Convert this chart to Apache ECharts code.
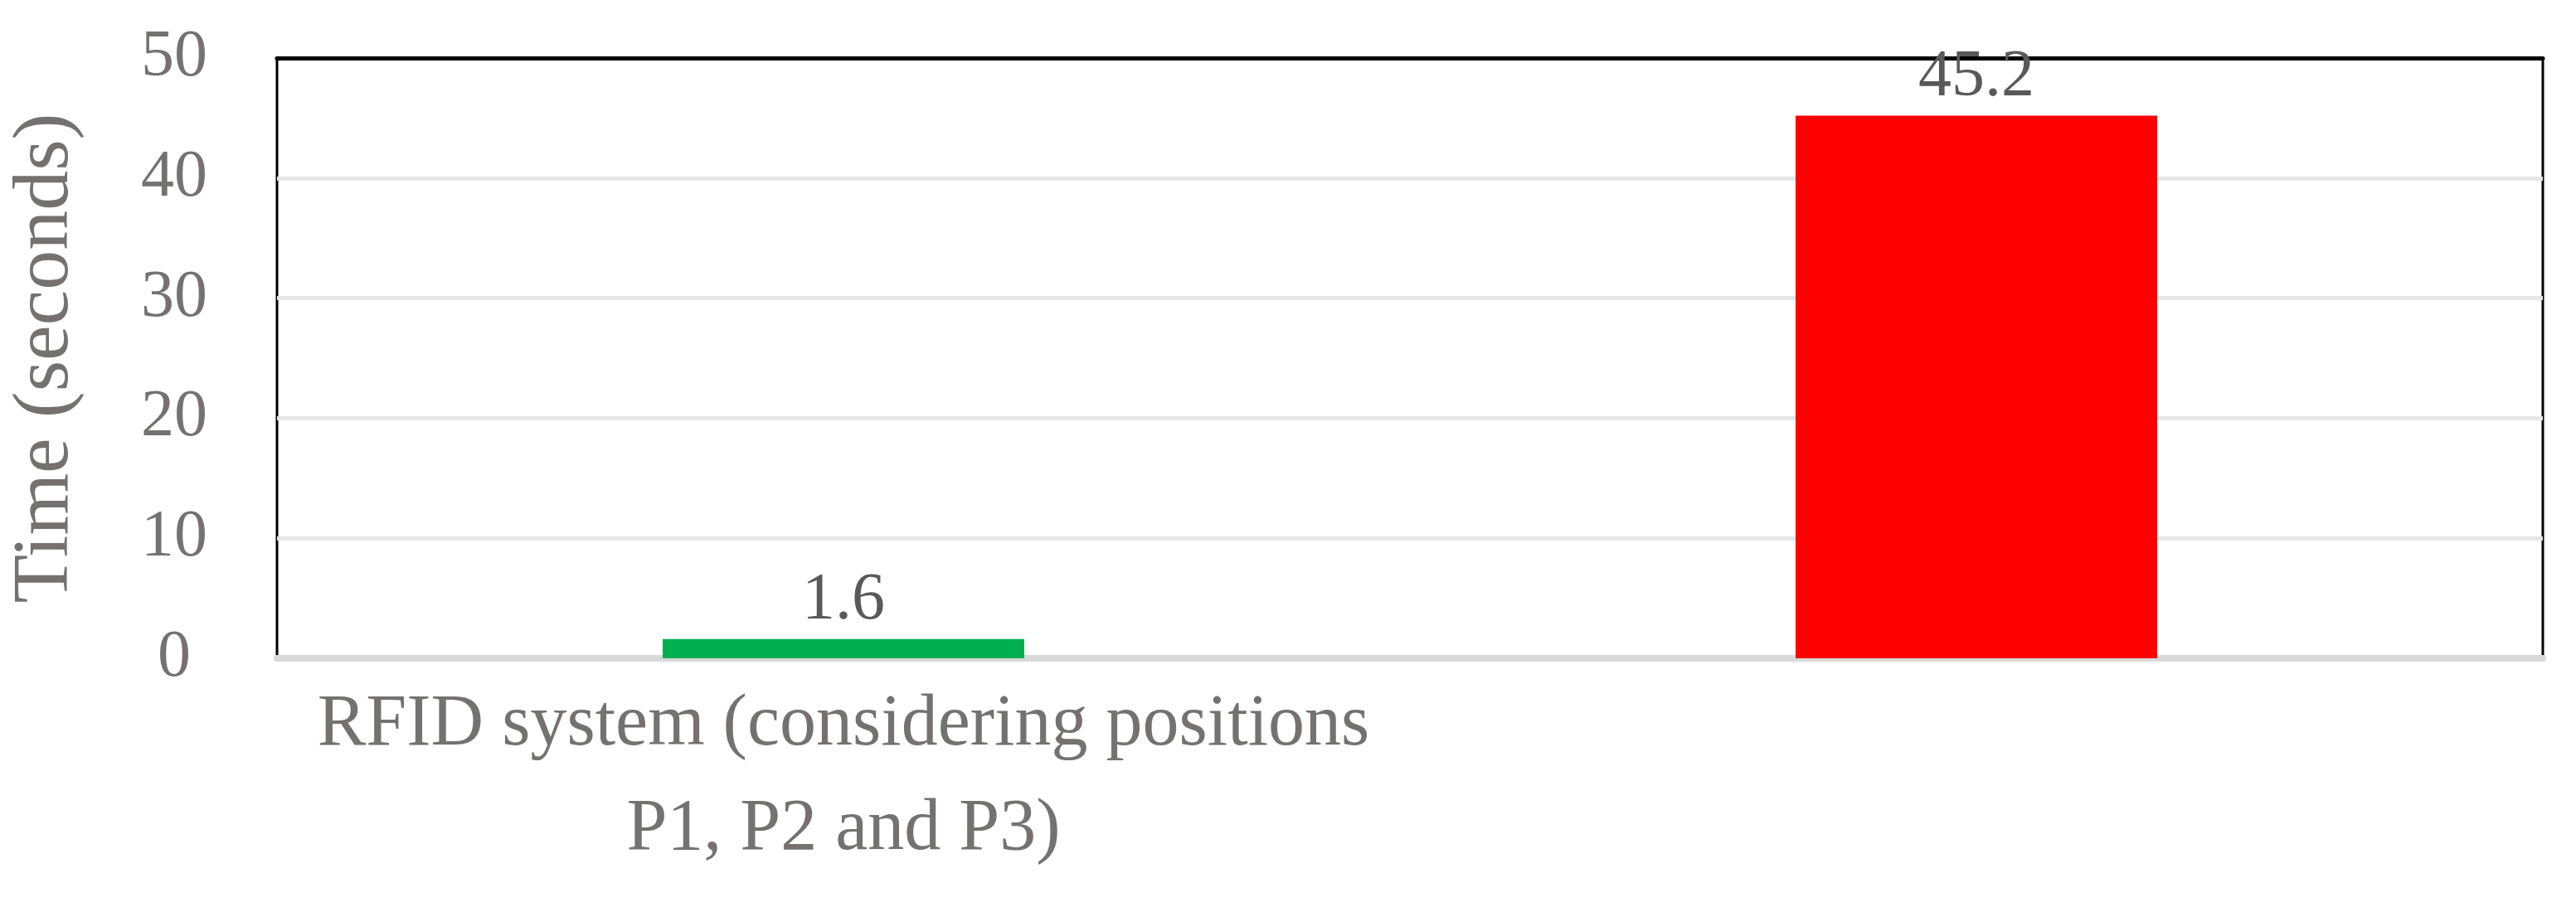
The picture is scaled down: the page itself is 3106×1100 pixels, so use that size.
<!DOCTYPE html>
<html>
<head>
<meta charset="utf-8">
<script src="https://cdn.jsdelivr.net/npm/echarts@6/dist/echarts.min.js"></script>
<style>html,body{margin:0;padding:0;background:#fff}#vis{width:3106px;height:1100px}</style>
</head>
<body>
<div id="vis"></div>
<script>
const categories = ["RFID system (considering positions\nP1, P2 and P3)", "Barcode system"];
const values = [1.6, 45.2];
const barColors = ["#00b050", "#ff0000"];
const yTicks = { min: 0, max: 50, interval: 10 };

const chart = echarts.init(document.getElementById("vis"));
const font = "'Liberation Serif', 'DejaVu Serif', serif";
const grey = "#767171";

chart.setOption({
  animation: false,
  grid: {
    left: 300, right: 40, top: 70, bottom: 306,
    show: true, borderColor: "#000", borderWidth: 3
  },
  xAxis: [{
    type: "category",
    data: categories,
    axisTick: { show: false },
    axisLine: { lineStyle: { color: "#d9d9d9", width: 8 } },
    axisLabel: { color: grey, fontFamily: font, fontSize: 88, lineHeight: 126, margin: 18 }
  }, {
    type: "category",
    position: "top",
    data: categories,
    axisTick: { show: false },
    axisLabel: { show: false },
    axisLine: { lineStyle: { color: "#000", width: 5 } }
  }],
  yAxis: {
    type: "value",
    min: yTicks.min, max: yTicks.max, interval: yTicks.interval,
    name: "Time (seconds)",
    nameLocation: "middle",
    nameGap: 230,
    nameTextStyle: { color: grey, fontFamily: font, fontSize: 96 },
    axisLine: { show: false },
    axisTick: { show: false },
    axisLabel: { color: grey, fontFamily: font, fontSize: 80, margin: 124, align: "center" },
    splitLine: { lineStyle: { color: "#e6e6e6", width: 5 } }
  },
  series: [{
    type: "bar",
    barWidth: 436,
    data: values.map((v, i) => ({ value: v, itemStyle: { color: barColors[i] } })),
    label: { show: true, position: "top", color: "#595959", fontFamily: font, fontSize: 80, distance: 6 }
  }]
});
</script>
</body>
</html>
